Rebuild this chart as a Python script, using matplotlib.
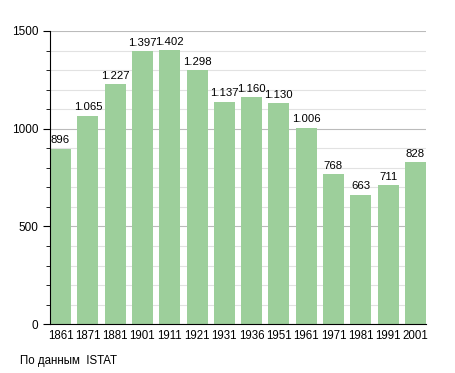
import matplotlib.pyplot as plt
import numpy as np
from matplotlib.ticker import MultipleLocator

plt.rcParams['font.family'] = ['Liberation Sans', 'DejaVu Sans']

# Population by census year
years = ['1861', '1871', '1881', '1901', '1911', '1921', '1931',
         '1936', '1951', '1961', '1971', '1981', '1991', '2001']
population = [896, 1065, 1227, 1397, 1402, 1298, 1137,
              1160, 1130, 1006, 768, 663, 711, 828]

fig = plt.figure(figsize=(4.55, 3.73), dpi=100)
ax = fig.add_axes([0.110, 0.131, 0.826, 0.786])

x = np.arange(len(years))
w = 0.77
ax.bar(x, population, width=w, color='#9dcf9b', zorder=2)

for xi, v in zip(x, population):
    label = f'{v:,}'.replace(',', '.')
    ax.text(xi, v + 18, label, ha='center', va='bottom', fontsize=8.2)

ax.set_xlim(-w / 2, len(years) - 1 + w / 2)
ax.set_ylim(0, 1500)
ax.set_xticks(x)
ax.set_xticklabels(years, fontsize=8.3)
ax.yaxis.set_major_locator(MultipleLocator(500))
ax.yaxis.set_minor_locator(MultipleLocator(100))
ax.tick_params(axis='y', which='major', labelsize=8.5, length=5, direction='out')
ax.tick_params(axis='y', which='minor', length=3, direction='out')
ax.tick_params(axis='x', length=0, pad=4)

ax.grid(axis='y', which='major', color='#bbbbbb', linewidth=0.8, zorder=0)
ax.grid(axis='y', which='minor', color='#e2e2e2', linewidth=0.8, zorder=0)
ax.set_axisbelow(True)
for s in ['top', 'right']:
    ax.spines[s].set_visible(False)

fig.text(20 / 455, 1 - 361 / 373, 'По данным  ISTAT', fontsize=8.3, va='center')

fig.savefig('out.png', dpi=100)
